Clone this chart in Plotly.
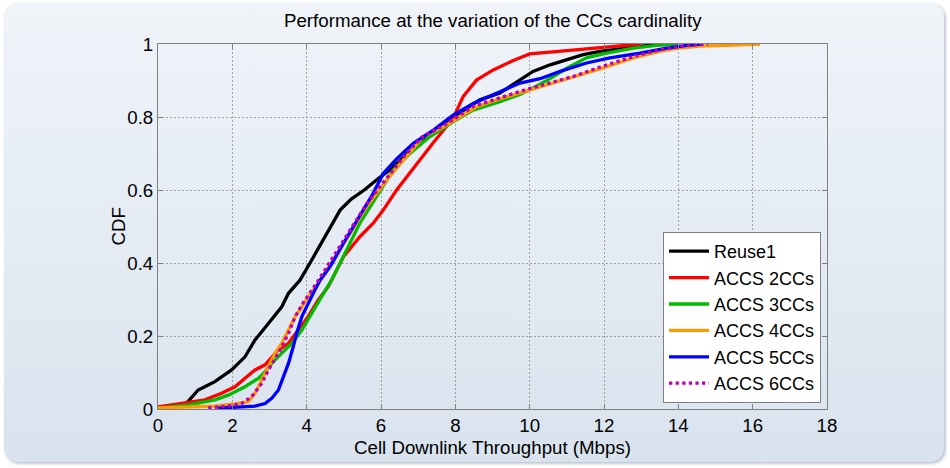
import base64
import plotly.graph_objects as go

# ---- CDF samples (throughput in Mbps, cumulative probability) ----
reuse1_x = [0, 0.4, 0.77, 1.08, 1.26, 1.53, 1.98, 2.34, 2.61, 2.97, 3.33, 3.51, 3.82, 4.09, 4.54,
            4.90, 5.20, 5.55, 5.97, 6.24, 6.87, 7.41, 7.94, 8.66, 9.20, 9.56, 10.09, 10.55, 11.0,
            11.44, 11.89, 12.78, 13.5]
reuse1_y = [0.005, 0.008, 0.016, 0.052, 0.061, 0.075, 0.107, 0.143, 0.189, 0.235, 0.28, 0.317, 0.353,
            0.40, 0.481, 0.545, 0.575, 0.60, 0.635, 0.655, 0.715, 0.755, 0.80, 0.847, 0.866, 0.89,
            0.925, 0.943, 0.957, 0.971, 0.98, 0.991, 1.0]

cc2_x = [0, 0.82, 1.26, 1.71, 2.07, 2.34, 2.61, 2.88, 3.06, 3.24, 3.51, 3.78, 4.04, 4.31, 4.58, 4.99,
         5.43, 5.79, 6.06, 6.42, 6.69, 6.96, 7.41, 7.94, 8.21, 8.57, 9.02, 9.56, 10.0, 11.0, 12.0, 13.0]
cc2_y = [0.006, 0.017, 0.025, 0.043, 0.061, 0.084, 0.107, 0.121, 0.143, 0.162, 0.18, 0.216, 0.253,
         0.299, 0.335, 0.417, 0.472, 0.509, 0.545, 0.60, 0.636, 0.673, 0.73, 0.796, 0.856, 0.901,
         0.929, 0.955, 0.973, 0.982, 0.991, 1.0]

cc3_x = [0, 0.82, 1.53, 1.89, 2.34, 2.70, 2.88, 3.06, 3.33, 3.60, 3.87, 4.13, 4.40, 4.67, 4.81, 5.08,
         5.43, 5.88, 6.33, 6.78, 7.3, 7.94, 8.48, 9.2, 9.74, 10.19, 10.63, 11.0, 11.53, 12.07, 12.79,
         13.42, 14.0]
cc3_y = [0.002, 0.011, 0.025, 0.038, 0.061, 0.084, 0.102, 0.125, 0.153, 0.18, 0.216, 0.262, 0.308,
         0.353, 0.381, 0.436, 0.509, 0.582, 0.655, 0.70, 0.745, 0.787, 0.819, 0.842, 0.862, 0.885,
         0.91, 0.934, 0.962, 0.975, 0.989, 0.996, 1.0]

cc4_x = [0, 0.82, 1.53, 2.07, 2.43, 2.61, 2.79, 2.97, 3.15, 3.33, 3.51, 3.69, 3.87, 4.04, 4.31, 4.72,
         5.17, 5.61, 5.88, 6.15, 6.60, 7.14, 7.77, 8.57, 9.11, 9.83, 10.46, 11.17, 11.89, 12.79, 13.5,
         13.96, 14.58, 15.47, 16.2]
cc4_y = [0.003, 0.006, 0.008, 0.014, 0.02, 0.043, 0.079, 0.116, 0.153, 0.18, 0.216, 0.253, 0.28,
         0.308, 0.344, 0.408, 0.481, 0.554, 0.591, 0.627, 0.682, 0.746, 0.778, 0.828, 0.847, 0.869,
         0.888, 0.908, 0.932, 0.962, 0.98, 0.988, 0.994, 0.997, 1.0]

cc5_x = [1.62, 2.16, 2.61, 2.88, 3.06, 3.24, 3.37, 3.51, 3.64, 3.73, 3.87, 4.04, 4.22, 4.36, 4.63,
         4.99, 5.43, 5.79, 6.06, 6.42, 6.87, 7.41, 7.94, 8.48, 9.11, 9.74, 10.28, 10.82, 11.53, 12.16,
         12.97, 13.69, 14.22, 14.6]
cc5_y = [0.002, 0.006, 0.008, 0.015, 0.029, 0.052, 0.088, 0.125, 0.171, 0.207, 0.253, 0.29, 0.326,
         0.353, 0.39, 0.454, 0.527, 0.591, 0.645, 0.685, 0.728, 0.764, 0.805, 0.837, 0.865, 0.893,
         0.905, 0.925, 0.948, 0.962, 0.975, 0.989, 0.996, 1.0]

cc6_x = [1.35, 1.88, 2.25, 2.52, 2.79, 2.97, 3.24, 3.51, 3.69, 3.9, 4.3, 4.7, 5.15, 5.6, 5.9, 6.2,
         6.6, 7.1, 7.75, 8.5, 9.1, 9.8, 10.5, 11.2, 11.9, 12.8, 13.5, 14.2, 14.8]
cc6_y = [0.003, 0.008, 0.015, 0.034, 0.07, 0.107, 0.153, 0.207, 0.253, 0.29, 0.35, 0.415, 0.49,
         0.56, 0.6, 0.64, 0.69, 0.745, 0.78, 0.83, 0.85, 0.872, 0.892, 0.912, 0.937, 0.966, 0.984,
         0.995, 1.0]

series_names = ["Reuse1", "ACCS 2CCs", "ACCS 3CCs", "ACCS 4CCs", "ACCS 5CCs", "ACCS 6CCs"]
x_ticks = [0, 2, 4, 6, 8, 10, 12, 14, 16, 18]
y_ticks = [0, 0.2, 0.4, 0.6, 0.8, 1]

W, H = 950, 468
L, R, T, B = 158, 123, 44, 59
PW, PH = W - L - R, H - T - B
FONT = "Liberation Sans, Arial, sans-serif"

series = [
    (reuse1_x, reuse1_y, "#000000", "solid"),
    (cc2_x, cc2_y, "#ff0000", "solid"),
    (cc3_x, cc3_y, "#00bb00", "solid"),
    (cc4_x, cc4_y, "#ff9900", "solid"),
    (cc5_x, cc5_y, "#0000ff", "solid"),
    (cc6_x, cc6_y, "#bb00bb", "dot"),
]

fig = go.Figure()
for name, (xs, ys, color, dash) in zip(series_names, series):
    fig.add_trace(go.Scatter(x=xs, y=ys, mode="lines", name=name,
                             line=dict(color=color, width=3.3, dash=dash)))

# rounded, gradient-filled figure frame behind everything
svg = f"""<svg xmlns='http://www.w3.org/2000/svg' width='{W}' height='{H}' viewBox='0 0 {W} {H}'>
<defs>
<linearGradient id='g' x1='0' y1='0' x2='0' y2='1'>
<stop offset='0' stop-color='#f0f4f9'/><stop offset='1' stop-color='#d9e3ee'/>
</linearGradient>
<filter id='s' x='-5%' y='-5%' width='110%' height='110%'>
<feDropShadow dx='1.5' dy='1.5' stdDeviation='1.5' flood-color='#7f8fa0' flood-opacity='0.6'/>
</filter>
</defs>
<rect x='4' y='3' width='940' height='459' rx='14' ry='14' fill='url(#g)' filter='url(#s)'/>
</svg>"""
src = "data:image/svg+xml;base64," + base64.b64encode(svg.encode()).decode()
fig.add_layout_image(dict(source=src, xref="paper", yref="paper",
                          x=-L / PW, y=1 + T / PH, sizex=W / PW, sizey=H / PH,
                          xanchor="left", yanchor="top", sizing="stretch", layer="below"))

axis_common = dict(showline=True, linecolor="#808080", linewidth=1, mirror="ticks",
                   ticks="inside", ticklen=5, tickcolor="#808080",
                   showgrid=True, gridcolor="#a0a0a0", gridwidth=1, griddash="2px,2px",
                   zeroline=False, tickfont=dict(family=FONT, size=18.7, color="#000000"))

fig.update_xaxes(range=[0, 18], tickvals=x_ticks, ticktext=[str(v) for v in x_ticks], **axis_common)
fig.update_yaxes(range=[0, 1], tickvals=y_ticks, ticktext=[f"{v:g}" for v in y_ticks], **axis_common)

def px_x(p):
    return (p - L) / PW

def px_y(p):
    return (H - B - p) / PH

annotations = [
    dict(text="Performance at the variation of the CCs cardinality", x=0.5, y=px_y(20),
         font=dict(size=18.7)),
    dict(text="Cell Downlink Throughput (Mbps)", x=0.5, y=px_y(447), font=dict(size=18.7)),
    dict(text="CDF", x=px_x(118), y=0.5, textangle=-90, font=dict(size=18.7)),
]
for a in annotations:
    a.update(xref="paper", yref="paper", showarrow=False, xanchor="center", yanchor="middle")
    a["font"].update(family=FONT, color="#000000")
fig.update_layout(annotations=annotations)

fig.update_layout(
    width=W, height=H,
    margin=dict(l=L, r=R, t=T, b=B, pad=0),
    paper_bgcolor="#ffffff", plot_bgcolor="#ffffff",
    showlegend=True,
    legend=dict(x=px_x(821), y=px_y(403), xanchor="right", yanchor="bottom",
                bgcolor="#ffffff", bordercolor="#808080", borderwidth=1,
                font=dict(family=FONT, size=18, color="#000000"),
                itemwidth=40, tracegroupgap=0),
)

fig.write_html("out.html")
